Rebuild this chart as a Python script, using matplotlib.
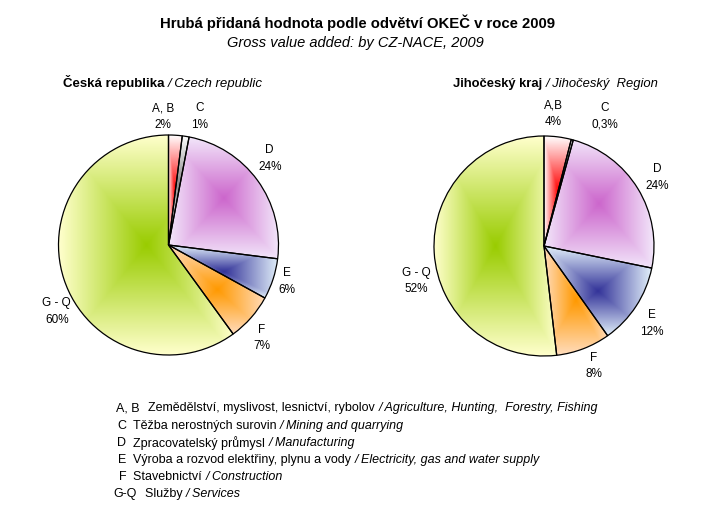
import matplotlib
matplotlib.use('Agg')
import matplotlib.pyplot as plt
import numpy as np
from matplotlib.colors import to_rgb

plt.rcParams['font.family'] = ['Liberation Sans', 'DejaVu Sans']

# ---- data ----
title = 'Hrubá přidaná hodnota podle odvětví OKEČ v roce 2009'
subtitle = 'Gross value added: by CZ-NACE, 2009'

cz_title = ('Česká republika ', '/ Czech republic')
cz_categories = ['A, B', 'C', 'D', 'E', 'F', 'G - Q']
cz_values = [2, 1, 24, 6, 7, 60]
cz_labels = ['2%', '1%', '24%', '6%', '7%', '60%']

jc_title = ('Jihočeský kraj ', '/ Jihočeský  Region')
jc_categories = ['A,B', 'C', 'D', 'E', 'F', 'G - Q']
jc_values = [4, 0.3, 24, 12, 8, 52]
jc_labels = ['4%', '0,3%', '24%', '12%', '8%', '52%']

legend_codes = ['A, B', 'C', 'D', 'E', 'F', 'G-Q']
legend_cz = ['Zemědělství, myslivost, lesnictví, rybolov ',
             'Těžba nerostných surovin ',
             'Zpracovatelský průmysl ',
             'Výroba a rozvod elektřiny, plynu a vody ',
             'Stavebnictví ',
             'Služby ']
legend_en = ['/ Agriculture, Hunting,  Forestry, Fishing',
             '/ Mining and quarrying',
             '/ Manufacturing',
             '/ Electricity, gas and water supply',
             '/ Construction',
             '/ Services']

center_colors = ['#FF0000', '#7A7A7A', '#CC66CC', '#333399', '#FF9900', '#99CC00']
edge_colors = ['#FFFFFF', '#FFFFFF', '#F2E6FA', '#E2F0FA', '#FFDCBC', '#FFFFCC']

# label placement (layout only, in pie-radius units relative to the pie centre)
cz_label_pos = [(-0.047, 1.17), (0.28, 1.17), (0.92, 0.785), (1.08, -0.333), (0.847, -0.845), (-1.016, -0.605)]
jc_label_pos = [(0.085, 1.20), (0.555, 1.18), (1.03, 0.623), (0.98, -0.706), (0.455, -1.09), (-1.157, -0.318)]

# ---- layout ----
W, H = 716, 507
fig = plt.figure(figsize=(W / 100, H / 100), dpi=100)
R = 110
lim = 1.3
size = 2 * lim * R


def make_ax(cx, cy):
    return fig.add_axes([(cx - size / 2) / W, (H - cy - size / 2) / H, size / W, size / H])


def gradient_fill(ax, wedge, c0, c1):
    bb = wedge.get_path().get_extents()
    n = 200
    u = np.linspace(-1, 1, n)
    U, V = np.meshgrid(u, u)
    t = np.maximum(np.abs(U), np.abs(V))[..., None]
    a = np.array(to_rgb(c0))
    b = np.array(to_rgb(c1))
    img = a * (1 - t) + b * t
    im = ax.imshow(img, extent=(bb.x0, bb.x1, bb.y0, bb.y1), origin='lower',
                   interpolation='bilinear', zorder=1)
    im.set_clip_path(wedge)


def draw_pie(ax, values, cats, labels, label_pos):
    wedges, texts = ax.pie(values, labels=[f'{c}\n{l}' for c, l in zip(cats, labels)],
                           startangle=90, counterclock=False, labeldistance=1.2,
                           normalize=True,
                           wedgeprops=dict(edgecolor='black', linewidth=0.9),
                           textprops=dict(fontsize=8.5))
    for t, p in zip(texts, label_pos):
        t.set_ha('center')
        t.set_va('center')
        t.set_linespacing(1.5)
        t.set_position(p)
    for w, c0, c1 in zip(wedges, center_colors, edge_colors):
        gradient_fill(ax, w, c0, c1)
        w.set_facecolor('none')
        w.set_zorder(2)
    ax.set_xlim(-lim, lim)
    ax.set_ylim(-lim, lim)
    ax.set_aspect('equal')
    ax.axis('off')


ax1 = make_ax(168.5, 245)
draw_pie(ax1, cz_values, cz_categories, cz_labels, cz_label_pos)
ax2 = make_ax(544, 246)
draw_pie(ax2, jc_values, jc_categories, jc_labels, jc_label_pos)

# titles
fig.text(358 / W, 1 - 23 / H, title, ha='center', va='center', fontsize=10.7, fontweight='bold')
fig.text(355 / W, 1 - 43 / H, subtitle, ha='center', va='center', fontsize=10.5, style='italic')


def mixed(x, y, bold_part, ital_part, fs):
    t1 = fig.text(x / W, 1 - y / H, bold_part, ha='left', va='baseline', fontsize=fs, fontweight='bold')
    ax1.annotate(ital_part, xy=(1, 0), xycoords=t1, ha='left', va='bottom',
                 fontsize=fs, style='italic', annotation_clip=False)


mixed(63, 87, cz_title[0], cz_title[1], 9.5)
mixed(453, 87, jc_title[0], jc_title[1], 9.4)

# legend text
y0 = 408.5
step = 17.15
fs_leg = 9.0
code_x = [116, 117, 117, 118, 119, 113]
desc_x = [148, 133, 133, 133, 133, 145]
for i, (code, cz, en) in enumerate(zip(legend_codes, legend_cz, legend_en)):
    y = 1 - (y0 + i * step) / H
    fig.text(code_x[i] / W, y, code, ha='left', va='center', fontsize=fs_leg)
    t = fig.text(desc_x[i] / W, y, cz, ha='left', va='center', fontsize=fs_leg)
    ax1.annotate(en, xy=(1, 0.5), xycoords=t, ha='left', va='center',
                 fontsize=fs_leg, style='italic', annotation_clip=False)

fig.savefig('out.png', dpi=100, facecolor='white')
